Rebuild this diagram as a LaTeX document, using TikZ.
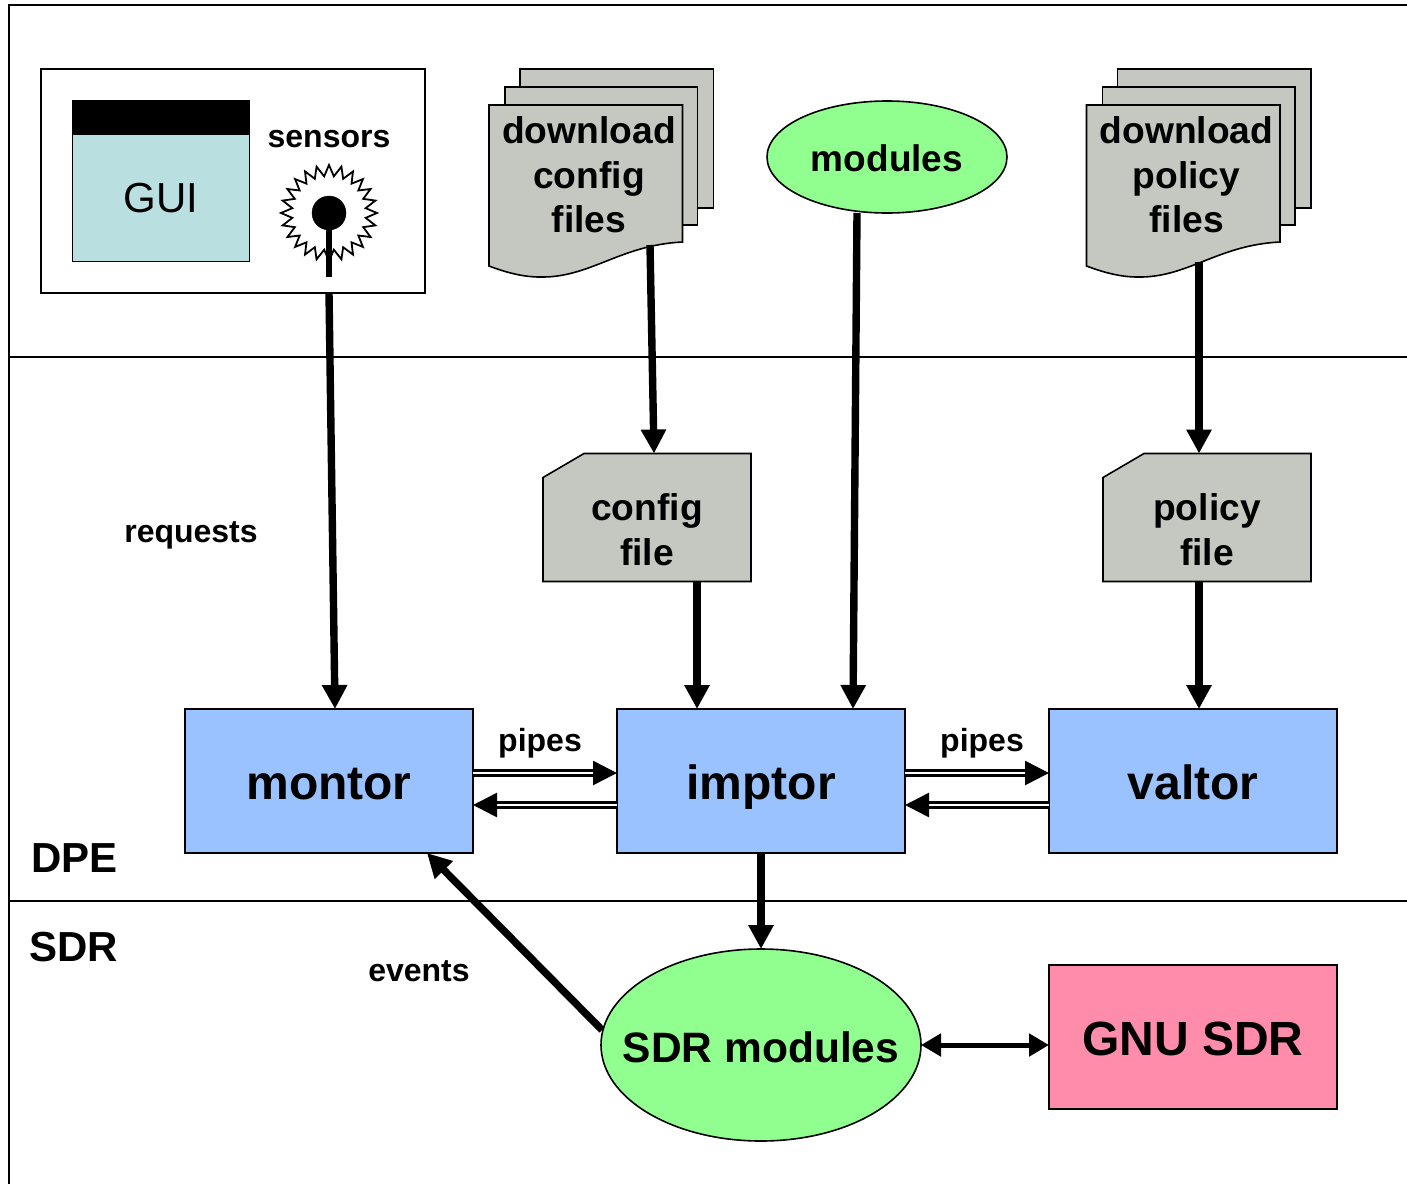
\documentclass[tikz,border=0pt]{standalone}
\usepackage{fontspec}
\setmainfont{Liberation Sans}
\usetikzlibrary{arrows.meta,shapes.geometric}
\definecolor{guiblue}{HTML}{B9DFE1}
\definecolor{filegray}{HTML}{C4C8C0}
\definecolor{modgreen}{HTML}{90FF90}
\definecolor{procblue}{HTML}{99C2FF}
\definecolor{gnupink}{HTML}{FF8CAA}
\tikzset{
    edge/.style={draw,line width=1.6pt,outer sep=0pt},
    proc/.style={edge,fill=procblue,minimum width=288pt,minimum height=144pt,inner sep=0pt,text height=36pt,text depth=0pt,font=\fontsize{48}{54}\selectfont\bfseries},
    modell/.style={edge,ellipse,fill=modgreen,inner sep=0pt},
    filecard/.style={minimum width=208pt,minimum height=128pt,inner sep=0pt,outer sep=0pt},
    filepage/.style={edge,fill=filegray},
    filetext/.style={align=center,font=\fontsize{37.2}{44.5}\selectfont\bfseries},
    smalltext/.style={font=\fontsize{32}{36}\selectfont\bfseries},
    zonetext/.style={font=\fontsize{42}{46}\selectfont\bfseries},
    flow/.style={line width=7.4pt,-{Triangle[length=24pt,width=24pt]}},
    pipe/.style={line width=2.6pt,double,double distance=2.6pt,-{Triangle[length=24pt,width=24pt]}},
}
\begin{document}
\begin{tikzpicture}[x=1pt,y=-1pt]
    \useasboundingbox (0,0) rectangle (1407,1184);
    % zones
    \draw[line width=2pt] (1407,5) -- (9,5) -- (9,1184);
    \draw[line width=2pt] (9,357) -- (1407,357);
    \draw[line width=2pt] (9,901) -- (1407,901);
    \node[zonetext,anchor=west] (dpe) at (28,858) {DPE};
    \node[zonetext,anchor=west] (sdr) at (26,947) {SDR};
    % front end
    \node[edge,minimum width=384pt,minimum height=224pt,inner sep=0pt] (sensorbox) at (233,181) {};
    \node[edge,fill=black,minimum width=177pt,minimum height=33pt,inner sep=0pt] (guibar) at (161,117.5) {};
    \node[edge,fill=guiblue,minimum width=177pt,minimum height=127pt,inner sep=0pt,font=\fontsize{42}{46}\selectfont] (gui) at (161,198) {GUI};
    \node[smalltext] (sensors) at (329,139) {sensors};
    \begin{scope}[shift={(329,213)}]
        \draw[line width=1.8pt] (0:48) \foreach \a in {0,15,...,345} { -- (\a:48) -- (\a+7.5:37) } -- cycle;
        \draw[fill] (0,0) circle (17pt);
        \draw[line width=6pt] (0,0) -- (0,64);
    \end{scope}
    % documents
    \foreach \dx in {0,597.5} {
        \begin{scope}[xshift=\dx]
            \draw[filepage] (520,69) -- (713.5,69) -- (713.5,208) -- (520,208) -- cycle;
            \draw[filepage] (505,87) -- (697.5,87) -- (697.5,225) -- (505,225) -- cycle;
            \draw[filepage] (489,105) -- (682.5,105) -- (682.5,242) .. controls (620,245) and (590,278) .. (540,277) .. controls (522,277) and (505,272) .. (489,266) -- cycle;
        \end{scope}
    }
    \node[filetext] (dlconfig) at (589,175) {download\\config\\files};
    \node[filetext] (dlpolicy) at (1186.5,175) {download\\policy\\files};
    \node[modell,minimum width=240pt,minimum height=112pt,inner xsep=-30pt,text height=29pt,text depth=0pt,font=\fontsize{37}{42}\selectfont\bfseries] (modules) at (887,157) {modules};
    % files
    \node[filecard] (cfgfile) at (647,517.5) {};
    \draw[filepage] (cfgfile.south west) -- (cfgfile.south east) -- (cfgfile.north east) -- ([xshift=41pt]cfgfile.north west) -- ([yshift=-24pt]cfgfile.north west) -- cycle;
    \node[filetext] (cfgtext) at (647,529.5) {config\\file};
    \node[filecard] (polfile) at (1207,517.5) {};
    \draw[filepage] (polfile.south west) -- (polfile.south east) -- (polfile.north east) -- ([xshift=41pt]polfile.north west) -- ([yshift=-24pt]polfile.north west) -- cycle;
    \node[filetext] (poltext) at (1207,529.5) {policy\\file};
    % processes
    \node[proc] (montor) at (329,781) {montor};
    \node[proc] (imptor) at (761,781) {imptor};
    \node[proc] (valtor) at (1193,781) {valtor};
    \node[modell,minimum width=320pt,minimum height=192pt,inner xsep=-60pt,text height=34pt,text depth=0pt,font=\fontsize{42.5}{46}\selectfont\bfseries] (sdrmod) at (761,1045) {SDR modules};
    \node[proc,fill=gnupink] (gnusdr) at (1193,1037) {GNU SDR};
    % labels
    \node[smalltext] (requests) at (191,535) {requests};
    \node[smalltext] (pipesa) at (540,743) {pipes};
    \node[smalltext] (pipesb) at (982,743) {pipes};
    \node[smalltext] (events) at (419,971) {events};
    % connectors
    \draw[flow] (sensorbox.south -| montor.north) -- ([xshift=6pt]montor.north);
    \coordinate (cfgout) at (650,245);
    \draw[flow] (cfgout) -- ([xshift=7pt]cfgfile.north);
    \coordinate (polout) at (1199,262);
    \draw[flow] (polout) -- (polout |- polfile.north);
    \draw[flow] ([xshift=-30pt]modules.south) -- ([xshift=92pt]imptor.north);
    \draw[flow] ([xshift=50pt]cfgfile.south) -- ([xshift=-64pt]imptor.north);
    \draw[flow] ([xshift=-8pt]polfile.south) -- ([xshift=6pt]valtor.north);
    \draw[pipe] ([yshift=8pt]montor.east) -- ([yshift=8pt]imptor.west);
    \draw[pipe] ([yshift=-24pt]imptor.west) -- ([yshift=-24pt]montor.east);
    \draw[pipe] ([yshift=8pt]imptor.east) -- ([yshift=8pt]valtor.west);
    \draw[pipe] ([yshift=-24pt]valtor.west) -- ([yshift=-24pt]imptor.east);
    \draw[flow] (imptor.south) -- (sdrmod.north);
    \coordinate (evtout) at (602,1030);
    \draw[flow] (evtout) -- ([xshift=98pt]montor.south);
    \draw[line width=5pt,{Triangle[length=20pt,width=22pt]}-{Triangle[length=20pt,width=22pt]}] (sdrmod.east) -- (sdrmod.east -| gnusdr.west);
\end{tikzpicture}
\end{document}
